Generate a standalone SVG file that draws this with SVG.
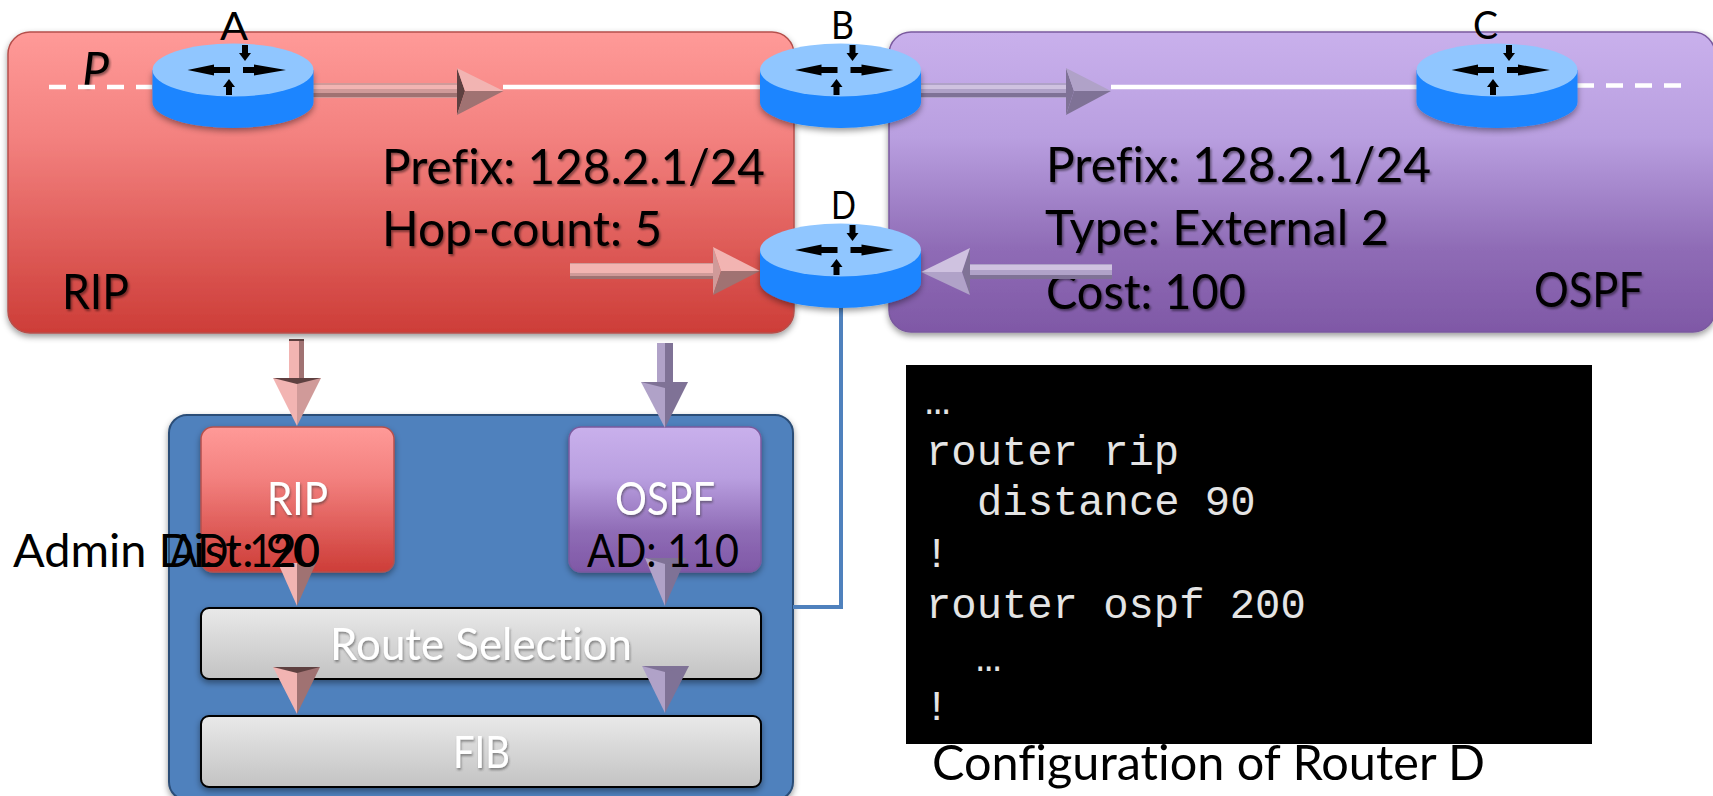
<svg xmlns="http://www.w3.org/2000/svg" width="1713" height="796" viewBox="0 0 1713 796">
<style>
.t{font-family:Lato,"Liberation Sans",sans-serif;fill:#000;font-variant-ligatures:none}
.s43{font-size:48px}.s41{font-size:46px}.s40{font-size:45px}.n{font-size:39px}
.w{fill:#fff}
.m{font-family:"Liberation Mono",monospace;font-size:42.2px;fill:#e4e4e4}
.rl{fill:#f2b4b2}.rm{fill:#d09a99}.rd{fill:#a07272}.re{fill:#5e4040}
.pl{fill:#cfc2e0}.pm{fill:#b0a2c8}.pd{fill:#7f7296}.pe{fill:#5a5068}
.dash{stroke:#fff;stroke-width:4.500;stroke-dasharray:17 12;fill:none}
.solid{stroke:#fff;stroke-width:4.500;fill:none}
</style>
<defs>
<linearGradient id="gr" x1="0" y1="0" x2="0" y2="1"><stop offset="0" stop-color="#ff9a98"/><stop offset=".35" stop-color="#f3817f"/><stop offset="1" stop-color="#cd3d38"/></linearGradient>
<linearGradient id="gp" x1="0" y1="0" x2="0" y2="1"><stop offset="0" stop-color="#c9b0ec"/><stop offset=".35" stop-color="#b99fe0"/><stop offset=".72" stop-color="#8f6cb6"/><stop offset="1" stop-color="#7f58a6"/></linearGradient>
<linearGradient id="gg" x1="0" y1="0" x2="0" y2="1"><stop offset="0" stop-color="#e9e9e9"/><stop offset="1" stop-color="#c3c3c3"/></linearGradient>
<filter id="sh" x="-10%" y="-10%" width="120%" height="125%"><feDropShadow dx="0" dy="3" stdDeviation="3" flood-color="#000" flood-opacity=".4"/></filter>
<filter id="ts" x="-10%" y="-20%" width="120%" height="150%"><feDropShadow dx="1.500" dy="2" stdDeviation="1.200" flood-color="#000" flood-opacity=".45"/></filter>
<filter id="tw" x="-10%" y="-20%" width="120%" height="150%"><feDropShadow dx="1" dy="2" stdDeviation="1" flood-color="#333" flood-opacity=".5"/></filter>
<g id="router">
<path d="M-80.500,0V32A80.500,26 0 0 0 80.500,32V0Z" fill="#1a85ff" filter="url(#sh)"/>
<ellipse rx="80.500" ry="26.500" fill="#90c6ff"/>
<polygon points="-45.500,0 -19,-5.500 -19,-3 -3,-3 -3,3 -19,3 -19,5.500"/>
<polygon points="53,0 21,-5.500 21,-3 10,-3 10,3 21,3 21,5.500"/>
<polygon points="12,-9 6,-17 9,-17 9,-25 15,-25 15,-17 18,-17"/>
<polygon points="-4,9 -10,17 -7,17 -7,25 -1,25 -1,17 2,17"/>
</g>
</defs>

<g id="area-rip"><rect x="8" y="32" width="786" height="301" rx="22" fill="url(#gr)" stroke="#b5504c" stroke-width="1.500" filter="url(#sh)"/></g>
<g id="area-ospf"><rect x="889" y="32" width="826" height="300" rx="22" fill="url(#gp)" stroke="#7a5a9e" stroke-width="1.500" filter="url(#sh)"/></g>
<g id="router-box"><rect x="169" y="415" width="624" height="385" rx="18" fill="#4f81bd" stroke="#2c4d77" stroke-width="2" filter="url(#sh)"/></g>
<g id="rib-rip"><rect x="201" y="427" width="193" height="145" rx="12" fill="url(#gr)" stroke="#b5504c" stroke-width="1.500" filter="url(#sh)"/></g>
<g id="rib-ospf"><rect x="569" y="427" width="192" height="145" rx="12" fill="url(#gp)" stroke="#7a5a9e" stroke-width="1.500" filter="url(#sh)"/></g>
<g id="route-selection"><rect x="201" y="608" width="560" height="71" rx="8" fill="url(#gg)" stroke="#000" stroke-width="2" filter="url(#sh)"/></g>
<g id="fib"><rect x="201" y="716" width="560" height="71" rx="8" fill="url(#gg)" stroke="#000" stroke-width="2" filter="url(#sh)"/></g>
<g id="config-box"><rect x="906" y="365" width="686" height="379" fill="#000"/></g>

<g id="labels-area">
<text class="t s43" x="82" y="87" font-style="italic" textLength="27" lengthAdjust="spacingAndGlyphs" filter="url(#ts)">P</text>
<text class="t s43" x="382" y="184" textLength="383" lengthAdjust="spacingAndGlyphs" filter="url(#ts)">Prefix: 128.2.1/24</text>
<text class="t s43" x="382" y="246" textLength="280" lengthAdjust="spacingAndGlyphs" filter="url(#ts)">Hop-count: 5</text>
<text class="t s43" x="62" y="309" textLength="67" lengthAdjust="spacingAndGlyphs" filter="url(#ts)">RIP</text>
<text class="t s43" x="1046" y="182" textLength="385" lengthAdjust="spacingAndGlyphs" filter="url(#ts)">Prefix: 128.2.1/24</text>
<text class="t s43" x="1045" y="245" textLength="344" lengthAdjust="spacingAndGlyphs" filter="url(#ts)">Type: External 2</text>
<text class="t s43" x="1046" y="309" textLength="200" lengthAdjust="spacingAndGlyphs" filter="url(#ts)">Cost: 100</text>
<text class="t s43" x="1534" y="307" textLength="109" lengthAdjust="spacingAndGlyphs" filter="url(#ts)">OSPF</text>
</g>

<g id="connectors">
<path class="dash" d="M49,87H152"/>
<path class="solid" d="M503,87H760"/>
<path class="solid" d="M1111,87H1417"/>
<path class="dash" d="M1577,85.500H1682"/>
<path d="M841,307V607H793" fill="none" stroke="#4f81bd" stroke-width="4"/>

<g id="arrow-a">
<rect class="rm" x="313" y="83" width="144" height="15"/><rect class="rl" x="313" y="85" width="144" height="4"/><rect class="rd" x="313" y="93" width="144" height="4"/>
<polygon class="re" points="457,68 465,91 457,115"/><polygon class="rl" points="457,68 503.500,91 465,91"/><polygon class="rd" points="457,115 503.500,91 465,91"/>
</g>
<g id="arrow-b">
<rect class="pm" x="921" y="83" width="145" height="15"/><rect class="pl" x="921" y="85" width="145" height="4"/><rect class="pd" x="921" y="93" width="145" height="4"/>
<polygon class="pd" points="1066,68 1074,91 1066,115"/><polygon class="pm" points="1066,68 1111,91 1074,91"/><polygon class="pd" points="1066,115 1111,91 1074,91"/>
</g>
<g id="arrow-rip-d">
<rect class="rm" x="570" y="263" width="143" height="16"/><rect class="rl" x="570" y="264" width="143" height="9"/><rect class="rd" x="570" y="276" width="143" height="3"/>
<polygon class="rm" points="713,247 721,271 713,295"/><polygon class="rl" points="713,247 760,271 721,271"/><polygon class="rd" points="713,295 760,271 721,271"/>
</g>
<g id="arrow-ospf-d">
<rect class="pm" x="970" y="264" width="142" height="15"/><rect class="pl" x="970" y="265" width="142" height="5"/><rect class="pd" x="970" y="275" width="142" height="4"/>
<polygon class="pd" points="970,248 962,272 970,295"/><polygon class="pl" points="970,248 921,272 962,272"/><polygon class="pm" points="970,295 921,272 962,272"/>
</g>
<g id="arrow-down-rip">
<rect class="rl" x="289" y="339" width="10" height="40"/><rect class="rd" x="299" y="339" width="5" height="40"/><rect class="re" x="289" y="339" width="15" height="2"/>
<polygon class="rl" points="273,378 297,378 297,426"/><polygon class="rm" points="321,378 297,378 297,426"/><polygon class="re" points="273,378 321,378 297,384"/>
</g>
<g id="arrow-down-ospf">
<rect class="pm" x="657" y="343" width="8" height="40"/><rect class="pd" x="665" y="343" width="8" height="40"/>
<polygon class="pm" points="641,382 665,382 665,428"/><polygon class="pd" points="688,382 665,382 665,428"/><polygon class="pd" points="641,382 688,382 665,388"/>
</g>
<g id="arrow-rip-select">
<polygon class="rl" points="278,563 297,563 297,606"/><polygon class="rd" points="316,563 297,563 297,606"/>
</g>
<g id="arrow-ospf-select">
<polygon class="pm" points="645,558 665,558 665,606"/><polygon class="pd" points="686,558 665,558 665,606"/><polygon class="pd" points="645,558 686,558 665,564"/>
</g>
<g id="arrow-rip-fib">
<polygon class="rl" points="273,667 297,667 297,714"/><polygon class="rd" points="320,667 297,667 297,714"/><polygon class="re" points="273,667 320,667 297,673"/>
</g>
<g id="arrow-ospf-fib">
<polygon class="pm" points="642,666 665,666 665,713"/><polygon class="pd" points="689,666 665,666 665,713"/><polygon class="pd" points="642,666 689,666 665,672"/>
</g>
</g>

<g id="node-A"><use href="#router" x="233" y="70"/><text class="t n" x="220" y="40" textLength="28" lengthAdjust="spacingAndGlyphs">A</text></g>
<g id="node-B"><use href="#router" x="840.500" y="70"/><text class="t n" x="831" y="39" textLength="23" lengthAdjust="spacingAndGlyphs">B</text></g>
<g id="node-C"><use href="#router" x="1497" y="70"/><text class="t n" x="1473" y="39" textLength="25" lengthAdjust="spacingAndGlyphs">C</text></g>
<g id="node-D"><use href="#router" x="840.500" y="250"/><text class="t n" x="831" y="219" textLength="25" lengthAdjust="spacingAndGlyphs">D</text></g>

<g id="labels-router">
<text class="t s41 w" x="267" y="515" textLength="61" lengthAdjust="spacingAndGlyphs" filter="url(#tw)">RIP</text>
<text class="t s41 w" x="615" y="515" textLength="100" lengthAdjust="spacingAndGlyphs" filter="url(#tw)">OSPF</text>
<text class="t s41" x="13" y="567" textLength="307" lengthAdjust="spacingAndGlyphs">Admin Dist: 90</text>
<text class="t s41" x="170" y="567" textLength="150" lengthAdjust="spacingAndGlyphs">AD: 120</text>
<text class="t s41" x="587" y="567" textLength="152" lengthAdjust="spacingAndGlyphs">AD: 110</text>
<text class="t s40 w" x="330" y="660" textLength="302" lengthAdjust="spacingAndGlyphs" filter="url(#tw)">Route Selection</text>
<text class="t s40 w" x="453" y="768" textLength="57" lengthAdjust="spacingAndGlyphs" filter="url(#tw)">FIB</text>
</g>

<g id="config-text">
<text class="m" x="925" y="414">…</text>
<text class="m" x="926" y="465">router rip</text>
<text class="m" x="977" y="515">distance 90</text>
<text class="m" x="924" y="567">!</text>
<text class="m" x="926" y="618">router ospf 200</text>
<text class="m" x="976" y="671">…</text>
<text class="m" x="924" y="720">!</text>
<text class="t s43" x="932" y="780" textLength="553" lengthAdjust="spacingAndGlyphs">Configuration of Router D</text>
</g>
</svg>
